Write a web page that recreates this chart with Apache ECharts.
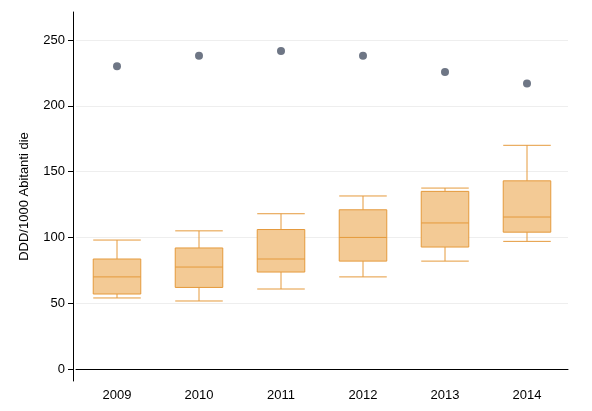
<!DOCTYPE html><html><head><meta charset="utf-8"><script src="https://cdn.jsdelivr.net/npm/echarts@6/dist/echarts.min.js"></script></head><body style="margin:0"><div id="c" style="width:592px;height:411px"></div><script>
const categories=['2009','2010','2011','2012','2013','2014'];
const boxes=[[54,57,70,83.6,98],[51.7,62,77.5,92,105],[60.8,73.7,83.6,106,118],[70,82,100,121,131.5],[82,92.7,111,135,137.5],[97,104,115.5,143,170]];
const outliers=[230,238,241.6,238,225.7,217];
const yTicks=[0,50,100,150,200,250];
const ch=echarts.init(document.getElementById('c'));
ch.setOption({animation:false,grid:{left:76,right:24,top:12,bottom:30},
xAxis:{type:'category',data:categories,axisLine:{lineStyle:{color:'#000'}},axisTick:{alignWithLabel:true,lineStyle:{color:'#000'}},axisLabel:{color:'#000',fontSize:13,fontFamily:'Liberation Sans'}},
yAxis:{type:'value',min:-9.1,max:271.3,offset:3,name:'DDD/1000 Abitanti die',nameLocation:'middle',nameGap:42,nameTextStyle:{color:'#000',fontSize:13,fontFamily:'Liberation Sans'},
axisLine:{show:true,lineStyle:{color:'#000'}},axisTick:{show:true,customValues:yTicks,lineStyle:{color:'#000'}},axisLabel:{customValues:yTicks,color:'#000',fontSize:13,fontFamily:'Liberation Sans'},splitLine:{show:true,lineStyle:{color:'#eee'}}},
series:[{type:'boxplot',data:boxes,boxWidth:['58%','58%'],itemStyle:{color:'#f3ca95',borderColor:'#e59a3c',borderWidth:1}},
{type:'scatter',data:outliers.map((v,i)=>[i,v]),symbolSize:8,itemStyle:{color:'#4a5466'}}]});
</script></body></html>
